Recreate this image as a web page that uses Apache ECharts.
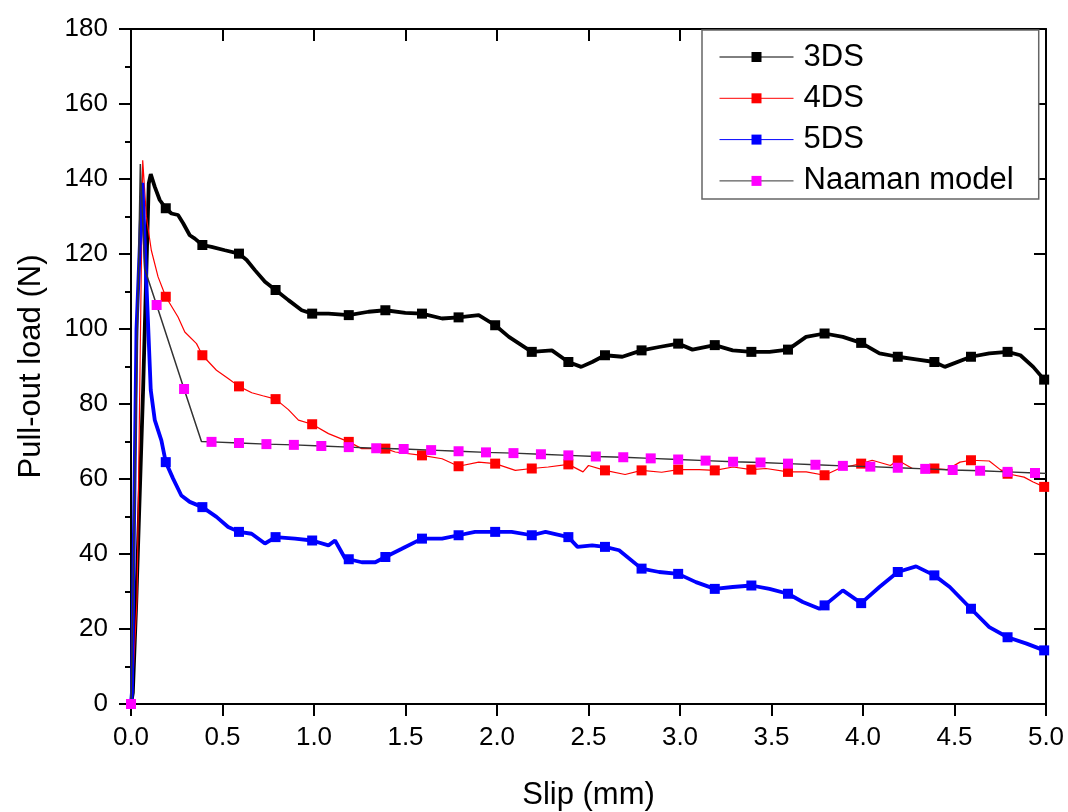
<!DOCTYPE html>
<html>
<head>
<meta charset="utf-8">
<title>Pull-out load vs slip</title>
<script src="https://cdn.jsdelivr.net/npm/echarts@6/dist/echarts.min.js"></script>
<style>
  html, body { margin: 0; padding: 0; background: #fff; }
  #chart { width: 1068px; height: 812px; }
</style>
</head>
<body>
<div id="chart"></div>
<script>
// Each point: [slip (mm), load (N), 1 = draw a square marker here]
const series3DS = [
  [0,0,1],[0.01,3,0],[0.029,27.6,0],[0.066,83.6,0],[0.097,138.8,0],[0.108,141.3,0],[0.13,137.9,0],
  [0.157,134.4,0],[0.19,132.2,1],[0.221,130.8,0],[0.257,130.4,0],[0.285,128.2,0],[0.321,125,0],
  [0.349,124.1,0],[0.39,122.4,1],[0.44,121.9,0],[0.513,121,0],[0.59,120.1,1],[0.632,118.4,0],
  [0.677,115.7,0],[0.732,112.6,0],[0.79,110.4,1],[0.86,107.7,0],[0.933,105,0],[0.99,104.1,1],
  [1.079,104.1,0],[1.19,103.7,1],[1.298,104.6,0],[1.39,105,1],[1.499,104.3,0],[1.59,104.1,1],
  [1.70,102.8,0],[1.79,103.1,1],[1.90,103.7,0],[1.99,101,1],[2.065,97.9,0],[2.19,93.9,1],
  [2.30,94.3,0],[2.39,91.2,1],[2.46,89.9,0],[2.52,91.2,0],[2.59,93.0,1],[2.685,92.6,0],
  [2.79,94.3,1],[2.886,95.2,0],[2.99,96.1,1],[3.068,94.5,0],[3.19,95.7,1],[3.288,94.3,0],
  [3.39,93.9,1],[3.489,93.9,0],[3.59,94.5,1],[3.689,97.9,0],[3.79,98.8,1],[3.89,97.9,0],
  [3.99,96.3,1],[4.09,93.5,0],[4.19,92.6,1],[4.29,91.9,0],[4.39,91.2,1],[4.447,89.9,0],
  [4.59,92.6,1],[4.69,93.5,0],[4.79,93.9,1],[4.86,93.0,0],[4.93,89.9,0],[4.99,86.5,1]
];

const series4DS = [
  [0,0,1],[0.011,7,0],[0.033,28,0],[0.064,145,0],[0.084,129.9,0],[0.111,121,0],[0.148,113.9,0],
  [0.19,108.6,1],[0.257,103.2,0],[0.294,99.2,0],[0.358,96.1,0],[0.39,93.0,1],[0.467,89,0],
  [0.531,86.8,0],[0.59,84.7,1],[0.66,83.0,0],[0.72,82.2,0],[0.79,81.3,1],[0.86,78.5,0],
  [0.915,75.7,0],[0.99,74.6,1],[1.079,72.1,0],[1.19,69.9,1],[1.261,68.1,0],[1.39,68.1,1],
  [1.444,67.2,0],[1.59,66.3,1],[1.70,65.4,0],[1.79,63.4,1],[1.90,64.5,0],[1.99,64.1,1],
  [2.10,62.3,0],[2.19,62.8,1],[2.28,63.2,0],[2.39,63.9,1],[2.47,61.9,0],[2.50,63.6,0],
  [2.59,62.3,1],[2.70,61.2,0],[2.79,62.3,1],[2.90,61.8,0],[2.99,62.5,1],[3.105,62.5,0],
  [3.19,62.3,1],[3.29,63.2,0],[3.39,62.5,1],[3.47,62.8,0],[3.59,61.9,1],[3.69,61.9,0],
  [3.79,61.0,1],[3.87,62.8,0],[3.99,64.1,1],[4.05,65.0,0],[4.15,63.6,0],[4.19,65.0,1],
  [4.27,62.8,0],[4.39,62.8,1],[4.46,62.5,0],[4.53,64.5,0],[4.59,65.0,1],[4.69,64.8,0],
  [4.75,62.5,0],[4.79,61.4,1],[4.88,60.5,0],[4.93,59.2,0],[4.99,57.9,1]
];

const series5DS = [
  [0,0,1],[0.005,3,0],[0.03,100,0],[0.062,139,0],[0.108,83.7,0],[0.13,75.7,0],[0.166,70.3,0],
  [0.19,64.5,1],[0.23,60.1,0],[0.275,55.6,0],[0.321,53.9,0],[0.39,52.5,1],[0.467,49.9,0],
  [0.531,47.2,0],[0.59,45.9,1],[0.659,45.4,0],[0.732,42.8,0],[0.79,44.5,1],[0.896,44.1,0],
  [0.99,43.6,1],[1.079,42.3,0],[1.115,43.6,0],[1.17,38.8,0],[1.19,38.6,1],[1.261,37.8,0],
  [1.335,37.8,0],[1.39,39.2,1],[1.48,41.4,0],[1.59,44.1,1],[1.70,44.1,0],[1.79,45.0,1],
  [1.88,45.9,0],[1.99,45.9,1],[2.08,45.9,0],[2.19,45.0,1],[2.265,45.9,0],[2.39,44.5,1],
  [2.44,41.9,0],[2.52,42.3,0],[2.59,41.9,1],[2.667,41.0,0],[2.79,36.1,1],[2.886,35.2,0],
  [2.99,34.7,1],[3.087,32.5,0],[3.19,30.7,1],[3.288,31.2,0],[3.39,31.6,1],[3.489,30.7,0],
  [3.59,29.4,1],[3.671,27.2,0],[3.762,25.4,0],[3.79,26.3,1],[3.89,30.3,0],[3.99,26.9,1],
  [4.09,31.2,0],[4.19,35.2,1],[4.29,36.7,0],[4.39,34.3,1],[4.474,31.2,0],[4.59,25.4,1],
  [4.69,20.5,0],[4.79,17.8,1],[4.894,16.1,0],[4.99,14.3,1]
];

const seriesNaaman = [
  [0,0,1],[0.051,144,0],[0.075,116,0],[0.14,106.4,1],[0.29,84,1],[0.385,70,0],
  [0.44,69.9,1],[0.59,69.6,1],[0.74,69.3,1],[0.89,69.1,1],[1.04,68.8,1],[1.19,68.5,1],
  [1.34,68.2,1],[1.49,68.0,1],[1.64,67.7,1],[1.79,67.4,1],[1.94,67.1,1],[2.09,66.9,1],
  [2.24,66.6,1],[2.39,66.3,1],[2.54,66.0,1],[2.69,65.8,1],[2.84,65.5,1],[2.99,65.2,1],
  [3.14,64.9,1],[3.29,64.6,1],[3.44,64.4,1],[3.59,64.1,1],[3.74,63.8,1],[3.89,63.5,1],
  [4.04,63.3,1],[4.19,63.0,1],[4.34,62.7,1],[4.49,62.4,1],[4.64,62.2,1],[4.79,61.9,1],
  [4.94,61.6,1],[5.0,61.5,0]
];

const seriesNames = ['3DS', '4DS', '5DS', 'Naaman model'];
const xTicks = { min: 0, max: 5, interval: 0.5 };
const yTicks = { min: 0, max: 180, interval: 20 };

const FONT = '"Liberation Sans", Arial, sans-serif';
const markerSize = v => (v[2] ? 10 : 0);

const chart = echarts.init(document.getElementById('chart'), null, { renderer: 'canvas' });

const frameLine = { show: true, onZero: false, lineStyle: { color: '#000', width: 2 } };

chart.setOption({
  backgroundColor: '#fff',
  animation: false,
  grid: { left: 131, right: 22, top: 29, bottom: 108, containLabel: false, outerBoundsMode: 'none' },
  legend: {
    orient: 'vertical',
    left: 702,
    top: 30,
    data: seriesNames,
    itemWidth: 74,
    itemHeight: 12.5,
    itemGap: 9.3,
    padding: [11, 25, 2, 17],
    backgroundColor: '#fff',
    borderColor: '#666',
    borderWidth: 1.5,
    borderRadius: 0,
    lineStyle: { width: 1 },
    textStyle: { fontFamily: FONT, fontSize: 31, color: '#000', lineHeight: 32, padding: [0, 0, 0, 5] }
  },
  xAxis: [
    {
      type: 'value', position: 'bottom',
      min: xTicks.min, max: xTicks.max, interval: xTicks.interval,
      name: 'Slip (mm)', nameLocation: 'middle', nameGap: 76,
      nameTextStyle: { fontFamily: FONT, fontSize: 31, color: '#000' },
      axisLine: frameLine,
      axisTick: { show: true, inside: false, length: 12, lineStyle: { color: '#000', width: 2 } },
      axisLabel: { fontFamily: FONT, fontSize: 26, color: '#000', margin: 21,
                   formatter: v => v.toFixed(1) },
      splitLine: { show: false }
    },
    {
      type: 'value', position: 'top',
      min: xTicks.min, max: xTicks.max, interval: xTicks.interval,
      axisLine: frameLine,
      axisTick: { show: true, inside: true, length: 12, lineStyle: { color: '#000', width: 2 } },
      axisLabel: { show: false },
      splitLine: { show: false }
    }
  ],
  yAxis: [
    {
      type: 'value', position: 'left',
      min: yTicks.min, max: yTicks.max, interval: yTicks.interval,
      name: 'Pull-out load (N)', nameLocation: 'middle', nameGap: 84, nameRotate: 90,
      nameTextStyle: { fontFamily: FONT, fontSize: 31, color: '#000' },
      axisLine: frameLine,
      axisTick: { show: true, inside: false, length: 12, lineStyle: { color: '#000', width: 2 } },
      minorTick: { show: true, splitNumber: 2, length: 6, lineStyle: { color: '#000', width: 2 } },
      axisLabel: { fontFamily: FONT, fontSize: 26, color: '#000', margin: 23 },
      splitLine: { show: false }
    },
    {
      type: 'value', position: 'right',
      min: yTicks.min, max: yTicks.max, interval: yTicks.interval,
      axisLine: frameLine,
      axisTick: { show: true, inside: true, length: 12, lineStyle: { color: '#000', width: 2 } },
      axisLabel: { show: false },
      splitLine: { show: false }
    }
  ],
  series: [
    {
      name: seriesNames[0], type: 'line', data: series3DS,
      symbol: 'rect', symbolSize: markerSize, showAllSymbol: true,
      lineStyle: { color: '#000', width: 3.8 },
      itemStyle: { color: '#000' }, z: 2
    },
    {
      name: seriesNames[1], type: 'line', data: series4DS,
      symbol: 'rect', symbolSize: markerSize, showAllSymbol: true,
      lineStyle: { color: '#ff0000', width: 1.2 },
      itemStyle: { color: '#ff0000' }, z: 3
    },
    {
      name: seriesNames[2], type: 'line', data: series5DS,
      symbol: 'rect', symbolSize: markerSize, showAllSymbol: true,
      lineStyle: { color: '#0000ff', width: 3.8 },
      itemStyle: { color: '#0000ff' }, z: 4
    },
    {
      name: seriesNames[3], type: 'line', data: seriesNaaman,
      symbol: 'rect', symbolSize: markerSize, showAllSymbol: true,
      lineStyle: { color: '#333', width: 1.5 },
      itemStyle: { color: '#ff00ff' }, z: 5
    }
  ]
});
</script>
</body>
</html>
